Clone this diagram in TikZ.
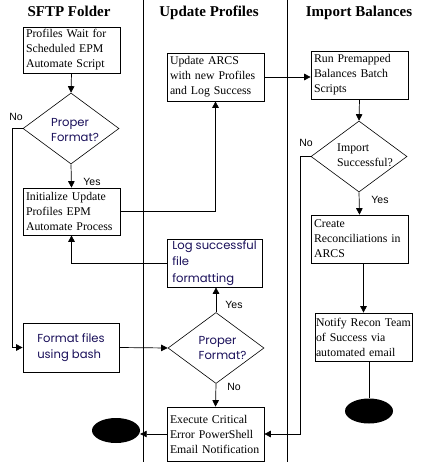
\documentclass[tikz,border=0pt]{standalone}
\usepackage{fontspec}
\setmainfont{Liberation Serif}
\newfontfamily\gothic{Poppins}
\newfontfamily\labelfont{Liberation Sans}
\usetikzlibrary{arrows.meta,shapes.geometric}
\definecolor{navy}{RGB}{25,15,90}
\begin{document}
\begin{tikzpicture}[x=1pt,y=-1pt,
  every node/.style={inner sep=0pt},
  lane/.style={line width=0.8pt},
  box/.style={draw, line width=0.7pt, rectangle, inner xsep=3pt, inner ysep=0pt, align=left, text width=91pt, font=\fontsize{11.8}{15}\selectfont},
  gbox/.style={draw, line width=0.7pt, rectangle, align=left, font=\gothic\fontsize{11.6}{16.5}\selectfont, text=navy},
  dia/.style={draw, diamond, line width=0.6pt, minimum width=96pt, minimum height=71pt, inner sep=0pt},
  dtext/.style={align=left, font=\gothic\fontsize{11.6}{15.5}\selectfont, text=navy},
  ttext/.style={align=left, font=\fontsize{11.8}{15}\selectfont},
  head/.style={font=\bfseries\fontsize{15}{18}\selectfont, anchor=base},
  yn/.style={font=\labelfont\fontsize{10.5}{12}\selectfont},
  arr/.style={line width=0.7pt, -{Triangle[length=6.5pt,width=6.5pt]}},
  con/.style={line width=0.7pt},
  term/.style={ellipse, fill=black, minimum width=48pt, minimum height=25pt, inner sep=0pt}]

\useasboundingbox (0,0) rectangle (432,462);
\fill[white] (0,0) rectangle (432,462);

% swimlanes
\draw[lane] (143,0) -- (143,462);
\draw[lane] (287,0) -- (287,462);

\node[head] (h1) at (69,17) {SFTP Folder};
\node[head] (h2) at (209,17) {Update Profiles};
\node[head] (h3) at (359,17) {Import Balances};

% SFTP lane
\node[box, minimum width=97pt, minimum height=46pt] (b1) at (71.5,50) {Profiles Wait for\\Scheduled EPM\\Automate Script};
\node[dia] (d1) at (71,128.5) {};
\node[dtext] (d1t) at (75,130) {Proper\\Format?};
\node[box, minimum width=97pt, minimum height=47pt] (b2) at (71.5,211.5) {Initialize Update\\Profiles EPM\\Automate Process};
\node[gbox, minimum width=96pt, minimum height=49pt] (fmt) at (71,347.5) {Format files\\using bash};
\node[term] (e1) at (116,430.5) {};

% Update Profiles lane
\node[box, minimum width=97pt, minimum height=48pt] (b3) at (215.5,77) {Update ARCS\\with new Profiles\\and Log Success};
\node[gbox, minimum width=95pt, minimum height=48pt] (log) at (214.5,263) {Log successful\\file\\formatting};
\node[dia] (d3) at (216,348) {};
\node[dtext] (d3t) at (222.5,348) {Proper\\Format?};
\node[box, minimum width=97pt, minimum height=54pt] (ex) at (215.5,434) {Execute Critical\\Error PowerShell\\Email Notification};

% Import Balances lane
\node[box, minimum width=97pt, minimum height=48pt] (b4) at (359.5,75) {Run Premapped\\Balances Batch\\Scripts};
\node[dia] (d2) at (359,156.5) {};
\node[ttext] (d2t) at (365,155.5) {Import\\Successful?};
\node[box, minimum width=97pt, minimum height=48pt] (b5) at (359.5,239) {Create\\Reconciliations in\\ARCS};
\node[box, inner xsep=1pt, text width=95pt, minimum width=97pt, minimum height=48pt] (b6) at (363.5,337) {Notify Recon Team\\of Success via\\automated email};
\node[term] (e2) at (369,411) {};

% labels
\node[yn] (l1) at (16,117) {No};
\node[yn] (l2) at (92,182) {Yes};
\node[yn] (l3) at (306,143) {No};
\node[yn] (l4) at (380,200) {Yes};
\node[yn] (l5) at (234,305) {Yes};
\node[yn] (l6) at (234,387) {No};

% connectors
\coordinate (n1) at (12,128.5);
\coordinate (n2) at (300,156.5);
\draw[arr] (b1.south) -- (d1.north);
\draw[arr] (d1.south) -- (b2.north);
\draw[arr] (d1.west) -- (n1) |- (fmt.west);
\draw[arr] (b2.east) -| (b3.south);
\draw[arr] (b3.east) -- (b3.east -| b4.west);
\draw[arr] (b4.south) -- (d2.north);
\draw[arr] (d2.south) -- (b5.north);
\draw[arr] (d2.west) -- (n2) |- (ex.east);
\draw[arr] (b6.north |- b5.south) -- (b6.north);
\draw[con] (e2.north |- b6.south) -- (e2.north);
\draw[arr] (log.west) -| (b2.south);
\draw[arr] (d3.north) -- (d3.north |- log.south);
\draw[arr] (fmt.east) -- (d3.west);
\draw[arr] (d3.south) -- (ex.north);
\draw[arr] (ex.west) -- (ex.west -| e1.east);
\end{tikzpicture}
\end{document}
